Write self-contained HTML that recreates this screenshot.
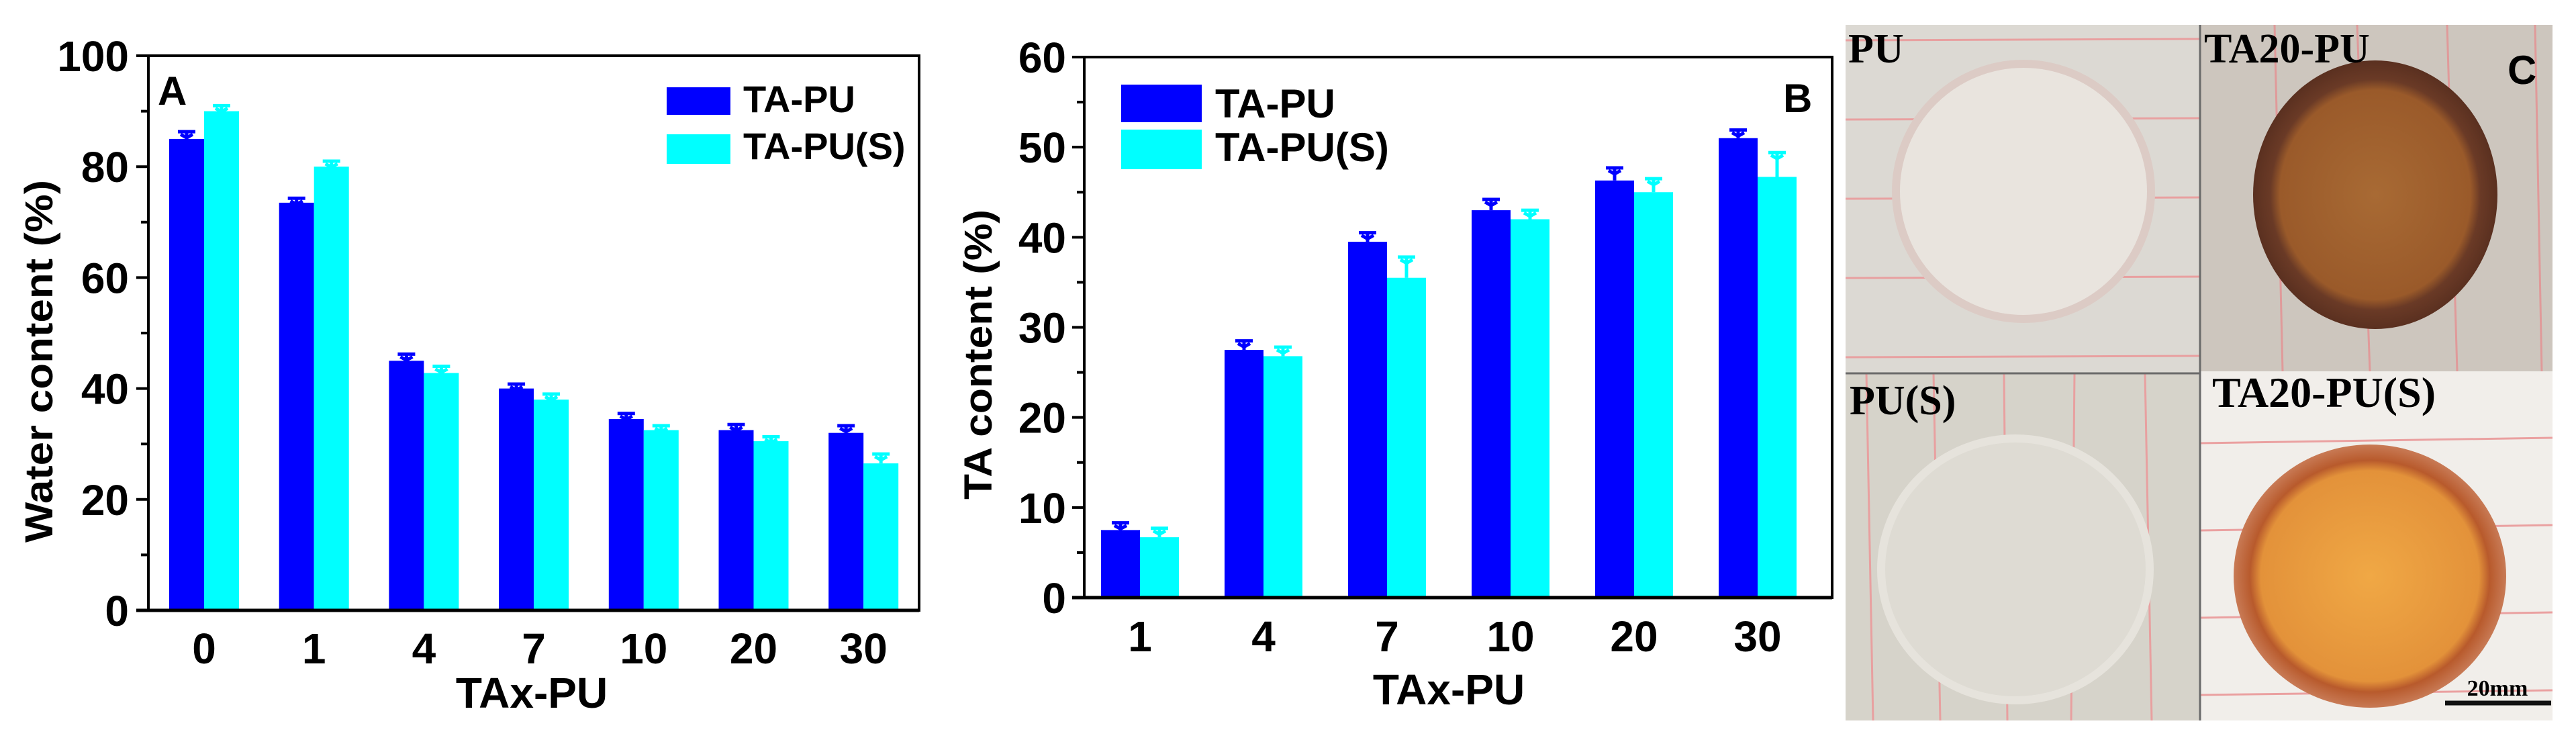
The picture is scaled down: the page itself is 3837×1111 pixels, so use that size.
<!DOCTYPE html>
<html><head><meta charset="utf-8"><style>
html,body{margin:0;padding:0;background:#fff;}
svg{display:block;}
.t{font-family:"Liberation Sans",Arial,sans-serif;font-weight:bold;fill:#000;}
.s{font-family:"Liberation Serif","Times New Roman",serif;font-weight:bold;fill:#000;}
</style></head><body>
<svg id="fig" width="3837" height="1111" viewBox="0 0 3837 1111" xmlns="http://www.w3.org/2000/svg">
<g id="chartA"></g>
<g id="chartB"></g>
<g id="photos">
  <defs>
    <clipPath id="c1"><rect x="2749" y="37" width="528" height="519"/></clipPath>
    <clipPath id="c2"><rect x="3277" y="37" width="525" height="516"/></clipPath>
    <clipPath id="c3"><rect x="2749" y="556" width="528" height="517"/></clipPath>
    <clipPath id="c4"><rect x="3277" y="553" width="525" height="520"/></clipPath>
    <radialGradient id="g2" cx="0.5" cy="0.5" r="0.5"><stop offset="0" stop-color="#a86a34"/><stop offset="0.78" stop-color="#9a5a2a"/><stop offset="0.86" stop-color="#6a3a26"/><stop offset="1" stop-color="#5a3020"/></radialGradient>
    <radialGradient id="g4" cx="0.5" cy="0.5" r="0.5"><stop offset="0" stop-color="#f0a845"/><stop offset="0.8" stop-color="#e3923a"/><stop offset="0.88" stop-color="#b85a2c"/><stop offset="1" stop-color="#c87a55"/></radialGradient>
  </defs>
  <g clip-path="url(#c1)">
    <rect x="2749" y="37" width="528" height="519" fill="#dcd9d3"/>
    <g stroke="#e8a0a0" stroke-width="3"><line x1="2749" y1="60" x2="3277" y2="58"/><line x1="2749" y1="178" x2="3277" y2="176"/><line x1="2749" y1="296" x2="3277" y2="294"/><line x1="2749" y1="414" x2="3277" y2="412"/><line x1="2749" y1="532" x2="3277" y2="530"/></g>
    <ellipse cx="3014" cy="285" rx="190" ry="190" fill="#e9e4de" stroke="#dccbc5" stroke-width="12"/>
  </g>
  <g clip-path="url(#c2)">
    <rect x="3277" y="37" width="525" height="516" fill="#cdc6be"/>
    <g stroke="#e09a9a" stroke-width="3"><line x1="3388" y1="37" x2="3400" y2="553"/><line x1="3511" y1="37" x2="3530" y2="553"/><line x1="3645" y1="37" x2="3660" y2="553"/><line x1="3776" y1="37" x2="3786" y2="553"/></g>
    <ellipse cx="3538" cy="290" rx="182" ry="200" fill="url(#g2)"/>
  </g>
  <g clip-path="url(#c3)">
    <rect x="2749" y="556" width="528" height="517" fill="#d6d3ca"/>
    <g stroke="#e8a0a0" stroke-width="3"><line x1="2780" y1="556" x2="2790" y2="1073"/><line x1="2880" y1="556" x2="2890" y2="1073"/><line x1="2985" y1="556" x2="2990" y2="1073"/><line x1="3090" y1="556" x2="3085" y2="1073"/><line x1="3195" y1="556" x2="3205" y2="1073"/></g>
    <ellipse cx="3002" cy="848" rx="200" ry="195" fill="#dedbd3" stroke="#e6e3dc" stroke-width="12"/>
  </g>
  <g clip-path="url(#c4)">
    <rect x="3277" y="553" width="525" height="520" fill="#f1eeea"/>
    <g stroke="#eaa0a0" stroke-width="3"><line x1="3277" y1="660" x2="3802" y2="652"/><line x1="3277" y1="790" x2="3802" y2="782"/><line x1="3277" y1="920" x2="3802" y2="912"/><line x1="3277" y1="1035" x2="3802" y2="1028"/></g>
    <ellipse cx="3530" cy="858" rx="203" ry="196" fill="url(#g4)"/>
  </g>
  <line x1="3277" y1="37" x2="3277" y2="1073" stroke="#6a6a6a" stroke-width="3"/>
  <line x1="2749" y1="556" x2="3277" y2="556" stroke="#6a6a6a" stroke-width="3"/>
  <text class="s" x="2753" y="93" font-size="62">PU</text>
  <text class="s" x="3283" y="93" font-size="62">TA20-PU</text>
  <text class="s" x="2755" y="617" font-size="62">PU(S)</text>
  <text class="s" x="3295" y="606" font-size="64">TA20-PU(S)</text>
  <text class="t" x="3735" y="125" font-size="60">C</text>
  <text class="s" x="3720" y="1036" font-size="34" text-anchor="middle">20mm</text>
  <line x1="3642" y1="1047" x2="3800" y2="1047" stroke="#111" stroke-width="7"/>
</g>
</svg>
<script>
const catsA = ["0","1","4","7","10","20","30"];
const tapuA = [85, 73.5, 45, 40, 34.5, 32.5, 32];
const tapuErrA = [1.3, 0.8, 1.2, 0.8, 1.0, 1.0, 1.3];
const tapuSA = [90, 80, 42.8, 38, 32.5, 30.5, 26.5];
const tapuSErrA = [1.0, 1.0, 1.2, 1.0, 0.8, 0.8, 1.7];
const yTicksA = [0, 20, 40, 60, 80, 100];

const catsB = ["1","4","7","10","20","30"];
const tapuB = [7.5, 27.5, 39.5, 43, 46.3, 51];
const tapuErrB = [0.8, 1.0, 1.0, 1.2, 1.4, 0.9];
const tapuSB = [6.7, 26.8, 35.5, 42, 45, 46.7];
const tapuSErrB = [1.0, 1.0, 2.3, 1.0, 1.5, 2.7];
const yTicksB = [0, 10, 20, 30, 40, 50, 60];

const NS = "http://www.w3.org/2000/svg";
function mk(parent, tag, attrs, text) {
  const e = document.createElementNS(NS, tag);
  for (const k in attrs) e.setAttribute(k, attrs[k]);
  if (text !== undefined) e.textContent = text;
  parent.appendChild(e);
  return e;
}

function drawChart(g, cfg) {
  const {L, R, T, B, yMax, minorStep, cats, s1, e1, s2, e2, yTicks, x0, step, barW, tickBase, yTitle, yTitleX, yTitleY, yTitleLen, xTitleX, xTitleY, labelRight} = cfg;
  const y = v => B - (v / yMax) * (B - T);
  const x = i => x0 + i * step;
  cats.forEach((c, i) => {
    const b1 = mk(g, "rect", {x: x(i) - barW, y: y(s1[i]), width: barW, height: B - y(s1[i]), fill: "#0000ff"});
    
    
    const b2 = mk(g, "rect", {x: x(i), y: y(s2[i]), width: barW, height: B - y(s2[i]), fill: "#00ffff"});
    
    
    [[x(i) - barW / 2, s1[i], e1[i], "#0000ff"], [x(i) + barW / 2, s2[i], e2[i], "#00ffff"]].forEach(([cx, v, e, col]) => {
      const eb = mk(g, "path", {d: `M${cx} ${y(v)} V${y(v + e)} M${cx - 13} ${y(v + e)} H${cx + 13} M${cx - 9} ${y(v + e) + 4} L${cx} ${y(v + e) + 9} L${cx + 9} ${y(v + e) + 4}`, stroke: col, "stroke-width": 5, fill: "none"});
      
      
    });
    const tl = mk(g, "text", {class: "t", x: x(i), y: tickBase, "font-size": 64, "text-anchor": "middle"}, c);
    
    
  });
  const fr = mk(g, "rect", {x: L, y: T, width: R - L, height: B - T, fill: "none", stroke: "#000", "stroke-width": 4});
  
  
  mk(g, "line", {x1: L - 18, y1: B, x2: R, y2: B, stroke: "#000", "stroke-width": 5});
  for (let v = 0; v <= yMax + 1e-9; v += minorStep) {
    const major = yTicks.includes(Math.round(v));
    mk(g, "line", {x1: L - (major ? 18 : 11), y1: y(v), x2: L, y2: y(v), stroke: "#000", "stroke-width": 4});
  }
  yTicks.forEach(v => {
    const t = mk(g, "text", {class: "t", x: labelRight, y: y(v) + 23, "font-size": 64, "text-anchor": "end"}, String(v));
    
    
  });
  const yt = mk(g, "text", {class: "t", x: 0, y: 0, "font-size": 58, "text-anchor": "middle", textLength: yTitleLen, lengthAdjust: "spacingAndGlyphs", transform: `translate(${yTitleX},${yTitleY}) rotate(-90)`}, yTitle);
  
  
  const xt = mk(g, "text", {class: "t", x: xTitleX, y: xTitleY, "font-size": 64, "text-anchor": "middle"}, "TAx-PU");
  
  
}

const gA = document.getElementById("chartA");
drawChart(gA, {L: 221, R: 1369, T: 83, B: 909, yMax: 100, minorStep: 10, cats: catsA, s1: tapuA, e1: tapuErrA, s2: tapuSA, e2: tapuSErrA, yTicks: yTicksA, x0: 304, step: 163.7, barW: 52, tickBase: 988, yTitle: "Water content (%)", yTitleX: 78, yTitleY: 538, yTitleLen: 540, xTitleX: 792, xTitleY: 1054, labelRight: 192});
const gB = document.getElementById("chartB");
drawChart(gB, {L: 1615, R: 2729, T: 85, B: 890, yMax: 60, minorStep: 5, cats: catsB, s1: tapuB, e1: tapuErrB, s2: tapuSB, e2: tapuSErrB, yTicks: yTicksB, x0: 1698, step: 184, barW: 58, tickBase: 970, yTitle: "TA content (%)", yTitleX: 1477, yTitleY: 528, yTitleLen: 432, xTitleX: 2158, xTitleY: 1049, labelRight: 1588});

function legend(g, sx, sw, sh, ys, tx, bases, fs) {
  const cols = ["#0000ff", "#00ffff"], names = ["TA-PU", "TA-PU(S)"];
  cols.forEach((c, i) => {
    const r = mk(g, "rect", {x: sx, y: ys[i], width: sw, height: sh[i], fill: c});
    
    
    const t = mk(g, "text", {class: "t", x: tx, y: bases[i], "font-size": fs}, names[i]);
    
    
  });
}
legend(gA, 993, 95, [41, 44], [130, 200], 1107, [167, 237], 56);
legend(gB, 1670, 120, [56, 59], [126, 193], 1810, [175, 240], 60);
const la = mk(gA, "text", {class: "t", x: 235, y: 156, "font-size": 60}, "A");


const lb = mk(gB, "text", {class: "t", x: 2656, y: 167, "font-size": 60}, "B");


</script>
</body></html>
